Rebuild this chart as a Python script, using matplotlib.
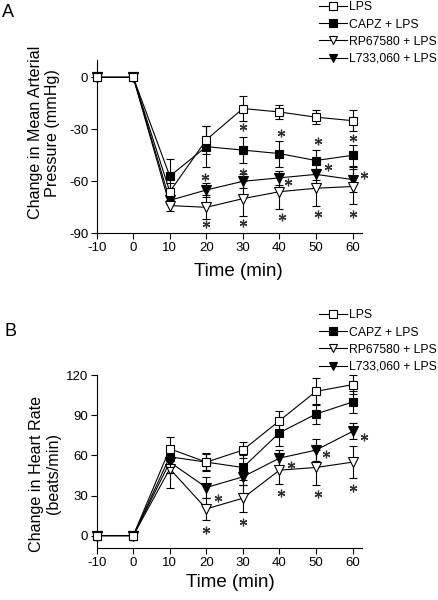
import matplotlib
matplotlib.use('Agg')
import matplotlib.pyplot as plt
from matplotlib.lines import Line2D

plt.rcParams['font.family'] = ['Liberation Sans', 'DejaVu Sans']
plt.rcParams['axes.unicode_minus'] = False

time = [-10, 0, 10, 20, 30, 40, 50, 60]
series_names = ['LPS', 'CAPZ + LPS', 'RP67580 + LPS', 'L733,060 + LPS']

# Panel A: change in mean arterial pressure (mmHg)
map_lps = [0, 0, -66, -36, -18, -20, -23, -25]
map_lps_err = [0, 0, 5, 8, 7, 4, 4, 6]
map_capz = [0, 0, -57, -40, -42, -44, -48, -45]
map_capz_err = [0, 0, 10, 12, 7.5, 7.5, 6, 6]
map_rp = [0, 0, -74, -75, -70, -66, -64, -63]
map_rp_err = [0, 0, 3, 7, 10, 10, 10, 10]
map_l733 = [0, 0, -71, -65, -60, -58, -56, -59]
map_l733_err = [0, 0, 2, 4, 4, 4, 3, 7]

# Panel B: change in heart rate (beats/min)
hr_lps = [0, 0, 65, 55, 64, 86, 108, 113]
hr_lps_err = [0, 0, 9, 7, 6, 7, 10, 7]
hr_capz = [0, 0, 59, 55, 51, 77, 91, 100]
hr_capz_err = [0, 0, 8, 6, 9, 10, 7.5, 8.5]
hr_rp = [0, 0, 50, 20, 28, 49, 51, 55]
hr_rp_err = [0, 0, 14, 8, 10, 10.5, 13, 12]
hr_l733 = [0, 0, 55, 36, 44, 58, 64, 78]
hr_l733_err = [0, 0, 8, 8, 6, 6, 8.5, 6]

# significance asterisks (x, y)
star_a_x = [30, 40.5, 50.5, 60, 19.5, 30, 53.2, 42.3, 63.2, 20, 30, 40.7, 50.5, 60.2]
star_a_y = [-28.5, -32.3, -36.5, -34.8, -57.3, -54.4, -51.5, -60.2, -56.3,
            -84.6, -83.8, -80.8, -79, -78.7]
star_b_x = [23.2, 20, 30, 43.2, 40.3, 52.7, 50.5, 63, 60.2]
star_b_y = [27.9, 4.2, 10.5, 52.9, 31.7, 60.8, 31.2, 73.6, 35.4]

styles = [
    dict(marker='s', mfc='white'),
    dict(marker='s', mfc='black'),
    dict(marker='v', mfc='white'),
    dict(marker='v', mfc='black'),
]

W, H = 438, 600
fig = plt.figure(figsize=(W / 100, H / 100), dpi=100)


def make_axes(left, top, right, bottom):
    return fig.add_axes([left / W, 1 - bottom / H, (right - left) / W, (bottom - top) / H])


def draw_panel(ax, vals, errs, ylim, yticks, ylabel, sx, sy):
    order = [3, 2, 1, 0]
    handles = {}
    for i in order:
        st = styles[i]
        ms = 6.4 if st['marker'] == 's' else 7.2
        c = ax.errorbar(time, vals[i], yerr=errs[i], color='black', lw=0.8,
                        marker=st['marker'], mfc=st['mfc'], mec='black', mew=0.8,
                        ms=ms, capsize=3.2, capthick=0.8, elinewidth=0.8,
                        clip_on=False, zorder=3 + (3 - i))
        for art in c.lines[1] + c.lines[2]:
            art.set_clip_on(False)
        c.lines[0].set_clip_on(False)
        handles[i] = Line2D([], [], color='black', lw=0.8, marker=st['marker'],
                            mfc=st['mfc'], mec='black', mew=0.8, ms=ms)
    ax.plot(sx, sy, ls='none', marker=(6, 2, 0), ms=5.5, mew=0.9, color='#333333',
            clip_on=False, zorder=10)
    ax.set_xlim(-10, 62.5)
    ax.set_ylim(*ylim)
    ax.set_xticks(time)
    ax.set_yticks(yticks)
    ax.tick_params(labelsize=9.5, length=4, width=0.8, direction='out', pad=2)
    for s in ['top', 'right']:
        ax.spines[s].set_visible(False)
    for s in ['left', 'bottom']:
        ax.spines[s].set_linewidth(0.8)
    ax.set_ylabel(ylabel, fontsize=11.6, linespacing=1.15)
    ax.set_xlabel('Time (min)', fontsize=13.5)
    return [handles[i] for i in range(4)]


axA = make_axes(96.7, 60, 361.7, 233.3)
hA = draw_panel(axA, [map_lps, map_capz, map_rp, map_l733],
                [map_lps_err, map_capz_err, map_rp_err, map_l733_err],
                (-90, 10), [0, -30, -60, -90],
                'Change in Mean Arterial\nPressure (mmHg)', star_a_x, star_a_y)
axA.yaxis.set_label_coords(-0.14, 0.58)
axA.xaxis.set_label_coords(0.535, -0.22)
axA.xaxis.label.set_va('center')

axB = make_axes(96.7, 375.3, 361.7, 548.3)
hB = draw_panel(axB, [hr_lps, hr_capz, hr_rp, hr_l733],
                [hr_lps_err, hr_capz_err, hr_rp_err, hr_l733_err],
                (-9.5, 120), [0, 30, 60, 90, 120],
                'Change in Heart Rate\n(beats/min)', star_b_x, star_b_y)
axB.yaxis.set_label_coords(-0.135, 0.43)
axB.xaxis.set_label_coords(0.506, -0.2)
axB.xaxis.label.set_va('center')

for h, ytop in [(hA, 1.5), (hB, 309.5)]:
    fig.legend(h, series_names, loc='upper left',
               bbox_to_anchor=(319 / W, 1 - ytop / H), frameon=False,
               fontsize=8.8, handlelength=2.3, handletextpad=0.15,
               labelspacing=0.42, borderpad=0, borderaxespad=0, markerscale=0.85)

fig.text(2 / W, 1 - 12.5 / H, 'A', fontsize=13, va='center', ha='left')
fig.text(4 / W, 1 - 331 / H, 'B', fontsize=13, va='center', ha='left')

fig.savefig('out.png', dpi=100)
